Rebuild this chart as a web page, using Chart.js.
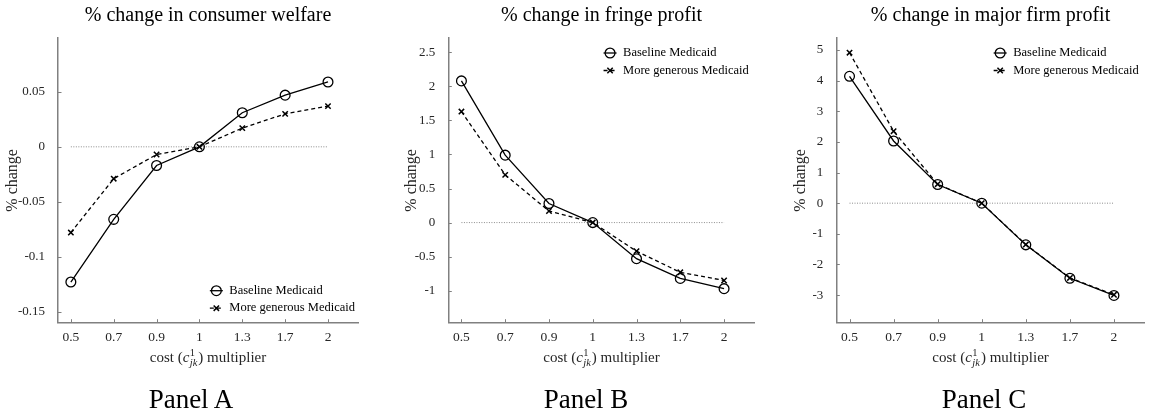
<!DOCTYPE html>
<html>
<head>
<meta charset="utf-8">
<script src="https://cdn.jsdelivr.net/npm/chart.js@4/dist/chart.umd.min.js"></script>
<style>
  html, body { margin: 0; padding: 0; background: #fff; }
  #wrap { position: relative; width: 1151px; height: 417px; overflow: hidden; }
  .panel { position: absolute; top: 0; height: 417px; }
  .cap {
    position: absolute; top: 383px; transform: translateX(-50%);
    font-family: "Liberation Serif", serif; font-size: 27px; line-height: 32px;
    color: #000; white-space: nowrap;
  }
</style>
</head>
<body>
<div id="wrap">
  <div class="panel" style="left:0;width:384px"><canvas id="chartA" width="384" height="417"></canvas></div>
  <div class="panel" style="left:384px;width:384px"><canvas id="chartB" width="384" height="417"></canvas></div>
  <div class="panel" style="left:768px;width:383px"><canvas id="chartC" width="383" height="417"></canvas></div>
  <div class="cap" style="left:191px">Panel A</div>
  <div class="cap" style="left:586px">Panel B</div>
  <div class="cap" style="left:984px">Panel C</div>
</div>
<script>
// Cost multipliers on the x axis (drawn at equal spacing)
const costMultipliers = ['0.5', '0.7', '0.9', '1', '1.3', '1.7', '2'];
const seriesNames = ['Baseline Medicaid', 'More generous Medicaid'];

// Panel A: % change in consumer welfare
const welfareBaseline = [-0.123, -0.066, -0.017, 0, 0.031, 0.047, 0.059];
const welfareGenerous = [-0.078, -0.029, -0.007, 0, 0.017, 0.030, 0.037];
const welfareTicks = [-0.15, -0.1, -0.05, 0, 0.05];

// Panel B: % change in fringe profit
const fringeBaseline = [2.08, 0.99, 0.28, 0, -0.53, -0.82, -0.97];
const fringeGenerous = [1.63, 0.70, 0.17, 0, -0.42, -0.73, -0.85];
const fringeTicks = [-1, -0.5, 0, 0.5, 1, 1.5, 2, 2.5];

// Panel C: % change in major firm profit
const majorBaseline = [4.14, 2.03, 0.61, 0, -1.36, -2.45, -3.01];
const majorGenerous = [4.91, 2.35, 0.62, 0, -1.35, -2.44, -2.99];
const majorTicks = [-3, -2, -1, 0, 1, 2, 3, 4, 5];

const SERIF = '"Liberation Serif", "Times New Roman", serif';
const AXIS_GREY = '#808080';
const LABEL_GREY = '#262626';

function toPoints(values) {
  return values.map((v, i) => ({ x: i + 1, y: v }));
}

// Short tick marks pointing into the plot area
const inwardTicks = {
  id: 'inwardTicks',
  afterDatasetsDraw(chart) {
    const { ctx, chartArea: a, scales: { x, y } } = chart;
    ctx.save();
    ctx.strokeStyle = AXIS_GREY;
    ctx.lineWidth = 1;
    ctx.beginPath();
    x.ticks.forEach(t => {
      const px = Math.round(x.getPixelForValue(t.value)) + 0.5;
      ctx.moveTo(px, a.bottom);
      ctx.lineTo(px, a.bottom - 3.5);
    });
    y.ticks.forEach(t => {
      const py = Math.round(y.getPixelForValue(t.value)) + 0.5;
      ctx.moveTo(a.left, py);
      ctx.lineTo(a.left + 3.5, py);
    });
    ctx.stroke();
    ctx.restore();
  }
};

// x-axis title with the super/subscripted cost symbol
const costAxisTitle = {
  id: 'costAxisTitle',
  afterDraw(chart) {
    const { ctx, chartArea: a } = chart;
    const size = 15, small = 10.5;
    const fRoman = size + 'px ' + SERIF;
    const fItalic = 'italic ' + size + 'px ' + SERIF;
    const fSup = small + 'px ' + SERIF;
    const fSub = 'italic ' + small + 'px ' + SERIF;
    ctx.save();
    ctx.fillStyle = LABEL_GREY;
    ctx.textBaseline = 'alphabetic';
    ctx.textAlign = 'left';
    const w = (font, t) => { ctx.font = font; return ctx.measureText(t).width; };
    const w1 = w(fRoman, 'cost (');
    const w2 = w(fItalic, 'c') + 0.5;
    const w3 = Math.max(w(fSup, '1'), w(fSub, 'jk')) + 1;
    const w4 = w(fRoman, ') multiplier');
    const total = w1 + w2 + w3 + w4;
    let x = (a.left + a.right) / 2 - total / 2;
    const base = a.bottom + 39;
    ctx.font = fRoman; ctx.fillText('cost (', x, base); x += w1;
    ctx.font = fItalic; ctx.fillText('c', x, base); x += w2;
    ctx.font = fSup; ctx.fillText('1', x, base - 6);
    ctx.font = fSub; ctx.fillText('jk', x, base + 4);
    x += w3;
    ctx.font = fRoman; ctx.fillText(') multiplier', x, base);
    ctx.restore();
  }
};

// Legend drawn inside the plot area: line segment + marker + label
const insideLegend = {
  id: 'insideLegend',
  afterDatasetsDraw(chart, args, opts) {
    const { ctx, chartArea: a } = chart;
    const items = chart.data.datasets.filter(d => d.label);
    ctx.save();
    ctx.font = '12.5px ' + SERIF;
    const textW = Math.max(...items.map(d => ctx.measureText(d.label).width));
    const textX = a.right - opts.right - textW;
    const mx = textX - 13;
    items.forEach((d, i) => {
      const cy = opts.bottom != null
        ? a.bottom - opts.bottom - (items.length - 1 - i) * opts.rowGap
        : a.top + opts.top + i * opts.rowGap;
      ctx.strokeStyle = d.borderColor;
      ctx.lineWidth = d.borderWidth;
      ctx.setLineDash(d.borderDash || []);
      ctx.beginPath();
      ctx.moveTo(mx - 6.5, cy);
      ctx.lineTo(mx + 6.5, cy);
      ctx.stroke();
      ctx.setLineDash([]);
      ctx.fillStyle = 'rgba(0,0,0,0)';
      ctx.lineWidth = d.pointBorderWidth;
      Chart.helpers.drawPoint(ctx, {
        pointStyle: d.pointStyle, radius: d.pointRadius,
        borderWidth: d.pointBorderWidth, rotation: 0
      }, mx, cy);
      ctx.fillStyle = '#000';
      ctx.textAlign = 'left';
      ctx.textBaseline = 'middle';
      ctx.fillText(d.label, textX, cy);
    });
    ctx.restore();
  }
};

function makePanel(id, cfg) {
  const datasets = [
    {
      label: seriesNames[0],
      data: toPoints(cfg.baseline),
      borderColor: '#000', borderWidth: 1.3,
      pointStyle: 'circle', pointRadius: 4.9, pointBorderWidth: 1.3,
      pointBackgroundColor: 'rgba(0,0,0,0)', pointBorderColor: '#000',
      fill: false, tension: 0, order: 1
    },
    {
      label: seriesNames[1],
      data: toPoints(cfg.generous),
      borderColor: '#000', borderWidth: 1.3, borderDash: [4, 3],
      pointStyle: 'crossRot', pointRadius: 3.8, pointBorderWidth: 1.5,
      pointBackgroundColor: 'rgba(0,0,0,0)', pointBorderColor: '#000',
      fill: false, tension: 0, order: 2
    },
    {
      // zero reference line across the plotted multipliers
      data: [{ x: 1, y: 0 }, { x: costMultipliers.length, y: 0 }],
      borderColor: '#8c8c8c', borderWidth: 1, borderDash: [1, 1.5],
      pointRadius: 0, fill: false, order: 3
    }
  ];

  return new Chart(document.getElementById(id), {
    type: 'line',
    data: { datasets },
    options: {
      responsive: false,
      animation: false,
      events: [],
      layout: { padding: { left: 0, right: cfg.padRight, top: 0, bottom: 44.3 } },
      plugins: {
        legend: { display: false },
        tooltip: { enabled: false },
        title: {
          display: true, text: cfg.title, fullSize: false,
          color: '#000', font: { family: SERIF, size: 20, weight: 'normal' },
          padding: { top: 4, bottom: 10 }
        },
        insideLegend: cfg.legend
      },
      scales: {
        x: {
          type: 'linear',
          min: 0.7, max: 7.7,
          afterBuildTicks: s => { s.ticks = costMultipliers.map((_, i) => ({ value: i + 1 })); },
          afterFit: s => { s.height = 50; },
          ticks: {
            autoSkip: false, maxRotation: 0, padding: -1,
            color: LABEL_GREY, font: { family: SERIF, size: 13.5 },
            callback: v => costMultipliers[Math.round(v) - 1]
          },
          grid: { display: false },
          border: { display: true, color: AXIS_GREY, width: 1.5 }
        },
        y: {
          min: cfg.yMin, max: cfg.yMax,
          afterBuildTicks: s => { s.ticks = cfg.ticks.map(v => ({ value: v })); },
          afterFit: s => { s.width = cfg.yWidth; },
          ticks: {
            padding: 5, color: LABEL_GREY, font: { family: SERIF, size: 13 },
            callback: v => String(v)
          },
          grid: { display: false },
          border: { display: true, color: AXIS_GREY, width: 1.5 },
          title: {
            display: true, text: '% change', color: LABEL_GREY,
            font: { family: SERIF, size: 16 },
            padding: { top: cfg.titlePad, bottom: 0 }
          }
        }
      }
    },
    plugins: [inwardTicks, costAxisTitle, insideLegend]
  });
}

makePanel('chartA', {
  title: '% change in consumer welfare',
  baseline: welfareBaseline, generous: welfareGenerous, ticks: welfareTicks,
  yMin: -0.16, yMax: 0.099, yWidth: 58, padRight: 26, titlePad: 3.5,
  legend: { right: 3, bottom: 14.5, rowGap: 17.5 }
});

makePanel('chartB', {
  title: '% change in fringe profit',
  baseline: fringeBaseline, generous: fringeGenerous, ticks: fringeTicks,
  yMin: -1.47, yMax: 2.71, yWidth: 64.3, padRight: 13.3, titlePad: 18.5,
  legend: { right: 6, top: 15, rowGap: 17.5 }
});

makePanel('chartC', {
  title: '% change in major firm profit',
  baseline: majorBaseline, generous: majorGenerous, ticks: majorTicks,
  yMin: -3.9, yMax: 5.39, yWidth: 68.3, padRight: 0.3, titlePad: 23.5,
  legend: { right: 6, top: 15, rowGap: 17.5 }
});
</script>
</body>
</html>
